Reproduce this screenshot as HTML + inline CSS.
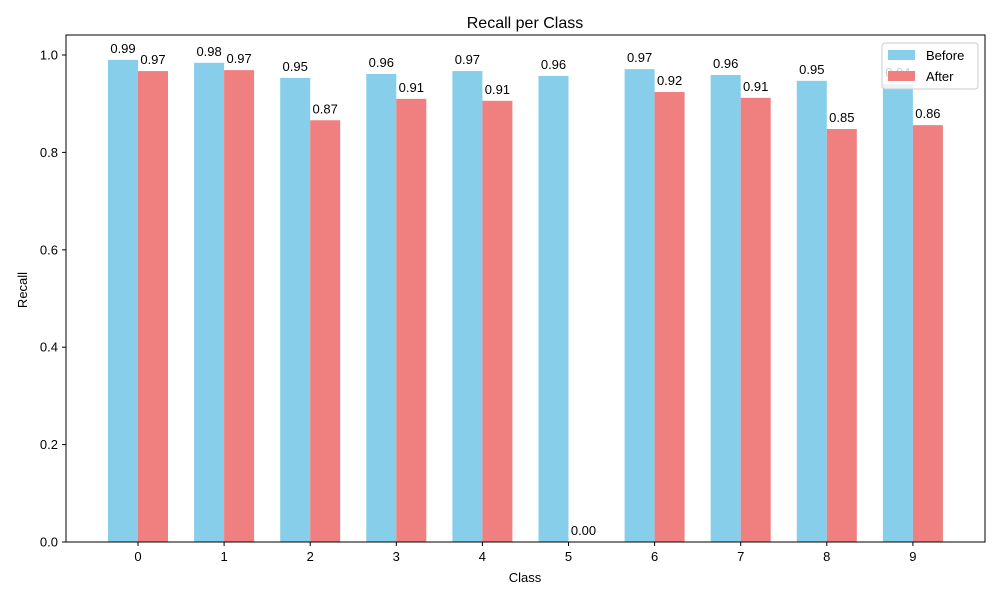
<!DOCTYPE html>
<html><head><meta charset="utf-8"><style>
body{margin:0;background:#fff;font-family:"Liberation Sans","DejaVu Sans",sans-serif}
svg text{font-family:"Liberation Sans","DejaVu Sans",sans-serif}
</style></head><body>
<svg id="chart" width="1000" height="600" xmlns="http://www.w3.org/2000/svg">
<rect width="1000" height="600" fill="#fff"/>
<text x="525" y="28" font-size="16" text-anchor="middle">Recall per Class</text>
<g id="grid"></g>
<g id="bars"></g>
<rect x="66" y="35" width="919" height="507" fill="none" stroke="#000" stroke-width="1"/>
<text x="525" y="582" font-size="13" text-anchor="middle">Class</text>
<text x="27" y="290" font-size="13" text-anchor="middle" transform="rotate(-90 27 290)">Recall</text>
<g>
<rect x="882" y="43" width="96" height="46" rx="3" fill="#fff" fill-opacity="0.8" stroke="#ccc"/>
<rect x="888" y="50" width="27" height="10" fill="#87ceeb"/>
<text x="926" y="60" font-size="13">Before</text>
<rect x="888" y="71" width="27" height="10" fill="#f08080"/>
<text x="926" y="81" font-size="13">After</text>
</g>
</svg>
<script>
const categories=["0","1","2","3","4","5","6","7","8","9"];
const beforeValues=[0.990,0.984,0.953,0.961,0.967,0.957,0.971,0.959,0.947,0.940];
const afterValues=[0.967,0.969,0.866,0.910,0.906,0.000,0.924,0.912,0.848,0.856];
const yTicks=[0.0,0.2,0.4,0.6,0.8,1.0];
const NS="http://www.w3.org/2000/svg";
const x=i=>138+i*86.1;
const y=v=>542-v*487;
const bw=30;
const g=document.getElementById('bars'),ax=document.getElementById('grid');
function mk(t,a,p){const e=document.createElementNS(NS,t);for(const k in a)e.setAttribute(k,a[k]);p.appendChild(e);return e;}
yTicks.forEach(t=>{
 const l=mk('line',{x1:62,x2:66,y1:y(t),y2:y(t),stroke:'#000'},ax);
 
 
 const tx=mk('text',{x:58,y:y(t)+4.5,'font-size':13,'text-anchor':'end'},ax);
 tx.textContent=t.toFixed(1);
 
 
});
categories.forEach((c,i)=>{
 const l=mk('line',{x1:x(i),x2:x(i),y1:542,y2:546,stroke:'#000'},ax);
 
 
 const tx=mk('text',{x:x(i),y:561,'font-size':13,'text-anchor':'middle'},ax);
 tx.textContent=c;
 
 
 [[beforeValues[i],-bw,'#87ceeb','before'],[afterValues[i],0,'#f08080','after']].forEach(([v,off,col,s])=>{
  const r=mk('rect',{x:x(i)+off,y:y(v),width:bw,height:542-y(v),fill:col},g);
  
  
  const t=mk('text',{x:x(i)+off+bw/2,y:y(v)-7,'font-size':13,'text-anchor':'middle'},g);
  t.textContent=v.toFixed(2);
  
  
 });
});
</script>
</body></html>
